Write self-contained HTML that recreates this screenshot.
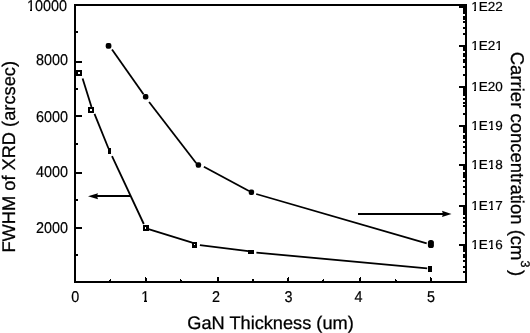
<!DOCTYPE html>
<html><head><meta charset="utf-8"><style>
html,body{margin:0;padding:0;background:#fff;width:530px;height:333px;overflow:hidden}
svg{position:absolute;left:0;top:0}
text{font-family:"Liberation Sans",Arial,sans-serif;fill:#000;stroke:#000;stroke-width:0.2px}
</style></head><body>
<svg width="530" height="333" viewBox="0 0 530 333" text-rendering="geometricPrecision">
<g fill="#000" shape-rendering="crispEdges">
<rect x="74" y="4" width="2" height="279"/>
<rect x="74" y="4" width="393" height="2"/>
<rect x="465" y="4" width="2" height="279"/>
<rect x="74" y="281" width="393" height="2"/>
<rect x="76" y="61" width="6" height="2"/>
<rect x="76" y="115" width="6" height="2"/>
<rect x="76" y="172" width="6" height="2"/>
<rect x="76" y="227" width="6" height="2"/>
<rect x="76" y="31" width="2" height="2"/>
<rect x="76" y="88" width="2" height="2"/>
<rect x="76" y="143" width="2" height="2"/>
<rect x="76" y="199" width="2" height="2"/>
<rect x="76" y="254" width="2" height="2"/>
<rect x="145" y="277" width="1" height="4"/>
<rect x="146" y="278" width="1" height="3"/>
<rect x="217" y="277" width="1" height="4"/>
<rect x="218" y="277" width="1" height="4"/>
<rect x="287" y="278" width="1" height="3"/>
<rect x="288" y="277" width="1" height="4"/>
<rect x="359" y="278" width="1" height="3"/>
<rect x="360" y="277" width="1" height="4"/>
<rect x="430" y="277" width="1" height="4"/>
<rect x="431" y="278" width="1" height="3"/>
<rect x="109" y="280" width="1" height="1"/>
<rect x="110" y="279" width="1" height="2"/>
<rect x="180" y="279" width="1" height="2"/>
<rect x="181" y="280" width="1" height="1"/>
<rect x="252" y="279" width="1" height="2"/>
<rect x="253" y="279" width="1" height="2"/>
<rect x="322" y="280" width="1" height="1"/>
<rect x="323" y="279" width="1" height="2"/>
<rect x="395" y="279" width="1" height="2"/>
<rect x="396" y="280" width="1" height="1"/>
<rect x="459" y="6" width="6" height="2"/>
<rect x="459" y="45" width="6" height="2"/>
<rect x="459" y="86" width="6" height="2"/>
<rect x="459" y="125" width="6" height="2"/>
<rect x="459" y="164" width="6" height="2"/>
<rect x="459" y="205" width="6" height="2"/>
<rect x="459" y="244" width="6" height="2"/>
<rect x="463" y="8" width="2" height="6"/>
<rect x="463" y="16" width="2" height="4"/>
<rect x="463" y="21" width="2" height="2"/>
<rect x="463" y="27" width="2" height="2"/>
<rect x="463" y="33" width="2" height="2"/>
<rect x="463" y="47" width="2" height="4"/>
<rect x="463" y="53" width="2" height="4"/>
<rect x="463" y="59" width="2" height="4"/>
<rect x="463" y="66" width="2" height="2"/>
<rect x="463" y="74" width="2" height="2"/>
<rect x="463" y="88" width="2" height="8"/>
<rect x="463" y="98" width="2" height="2"/>
<rect x="463" y="102" width="2" height="2"/>
<rect x="463" y="105" width="2" height="2"/>
<rect x="463" y="113" width="2" height="2"/>
<rect x="463" y="127" width="2" height="6"/>
<rect x="463" y="135" width="2" height="4"/>
<rect x="463" y="141" width="2" height="2"/>
<rect x="463" y="146" width="2" height="2"/>
<rect x="463" y="152" width="2" height="2"/>
<rect x="463" y="166" width="2" height="4"/>
<rect x="463" y="172" width="2" height="6"/>
<rect x="463" y="180" width="2" height="2"/>
<rect x="463" y="186" width="2" height="2"/>
<rect x="463" y="193" width="2" height="2"/>
<rect x="463" y="207" width="2" height="8"/>
<rect x="463" y="217" width="2" height="2"/>
<rect x="463" y="221" width="2" height="2"/>
<rect x="463" y="225" width="2" height="2"/>
<rect x="463" y="232" width="2" height="2"/>
<rect x="463" y="246" width="2" height="6"/>
<rect x="463" y="254" width="2" height="4"/>
<rect x="463" y="260" width="2" height="2"/>
<rect x="463" y="266" width="2" height="2"/>
<rect x="463" y="271" width="2" height="2"/>
</g>
<g stroke="#000" stroke-width="1.8" fill="none" stroke-linecap="butt">
<line x1="82.6" y1="78.4" x2="91.5" y2="107"/>
<line x1="94.5" y1="113.8" x2="108.5" y2="148.5"/>
<line x1="112" y1="156.2" x2="143.8" y2="224"/>
<line x1="148.5" y1="229.2" x2="192.2" y2="242.6"/>
<line x1="199.9" y1="245.1" x2="248.2" y2="251.2"/>
<line x1="256.4" y1="252.6" x2="427.2" y2="268.3"/>
<line x1="112" y1="49.5" x2="143.5" y2="94.3"/>
<line x1="149.1" y1="102" x2="196.3" y2="163.2"/>
<line x1="203.9" y1="166.7" x2="249" y2="191"/>
<line x1="256.2" y1="194" x2="426.7" y2="243.3"/>
</g>
<g fill="#000">
<path fill-rule="evenodd" d="M76 70h6v6h-6z M78 72v2h2v-2z"/>
<path fill-rule="evenodd" d="M88 107h6v6h-6z M90 109v2h2v-2z"/>
<rect x="108" y="148" width="3" height="6"/>
<path fill-rule="evenodd" d="M143 225h6v6h-6z M145 227v2h1v-2z"/>
<path fill-rule="evenodd" d="M192 242h5v6h-5z M194 244v1h1v-1z"/>
<rect x="248" y="250" width="6" height="4"/>
<rect x="428" y="266" width="4" height="6"/>
<rect x="105.7" y="43.1" width="5.7" height="5.6" rx="2"/>
<rect x="142.9" y="93.9" width="5.5" height="5.5" rx="2"/>
<rect x="195.7" y="162.2" width="5.4" height="5.5" rx="2"/>
<rect x="248.7" y="189.5" width="5.4" height="5.4" rx="2"/>
<rect x="427.9" y="240" width="6" height="8" rx="2.6"/>
<rect x="97" y="195" width="34" height="2"/>
<path d="M88 196.2 L98 193.2 L97 196 L98 199.2 Z"/>
<rect x="358" y="213" width="85" height="2"/>
<path d="M451.5 214 L442 210.8 L443 214 L442 216.9 Z"/>
</g>
<g font-size="15.7">
<text x="66.9" y="10.9" text-anchor="end" textLength="40" lengthAdjust="spacingAndGlyphs">10000</text>
<text x="68" y="65" text-anchor="end" textLength="32" lengthAdjust="spacingAndGlyphs">8000</text>
<text x="68" y="122" text-anchor="end" textLength="32" lengthAdjust="spacingAndGlyphs">6000</text>
<text x="68" y="177" text-anchor="end" textLength="32" lengthAdjust="spacingAndGlyphs">4000</text>
<text x="68" y="232.5" text-anchor="end" textLength="32" lengthAdjust="spacingAndGlyphs">2000</text>
<text x="71.2" y="302" textLength="8" lengthAdjust="spacingAndGlyphs">0</text>
<text x="141.35" y="302" textLength="8" lengthAdjust="spacingAndGlyphs">1</text>
<text x="212" y="302" textLength="8" lengthAdjust="spacingAndGlyphs">2</text>
<text x="284.5" y="302" textLength="8" lengthAdjust="spacingAndGlyphs">3</text>
<text x="354.5" y="302" textLength="8" lengthAdjust="spacingAndGlyphs">4</text>
<text x="426.9" y="302" textLength="8" lengthAdjust="spacingAndGlyphs">5</text>
</g>
<g font-size="13">
<text x="471.2" y="11" textLength="31.5" lengthAdjust="spacingAndGlyphs">1E22</text>
<text x="471.2" y="50" textLength="31.5" lengthAdjust="spacingAndGlyphs">1E21</text>
<text x="471.2" y="91" textLength="31.5" lengthAdjust="spacingAndGlyphs">1E20</text>
<text x="471.2" y="130" textLength="31.5" lengthAdjust="spacingAndGlyphs">1E19</text>
<text x="471.2" y="169" textLength="31.5" lengthAdjust="spacingAndGlyphs">1E18</text>
<text x="471.2" y="210" textLength="31.5" lengthAdjust="spacingAndGlyphs">1E17</text>
<text x="471.2" y="249" textLength="31.5" lengthAdjust="spacingAndGlyphs">1E16</text>
</g>
<g fill="#fff" shape-rendering="crispEdges">
<rect x="27" y="9" width="3" height="3"/>
<rect x="32" y="9" width="3" height="3"/>
<rect x="142" y="300" width="2" height="3"/>
<rect x="147" y="300" width="2" height="3"/>
<rect x="472" y="9" width="2" height="3"/>
<rect x="476" y="9" width="3" height="3"/>
<rect x="472" y="48" width="2" height="3"/>
<rect x="476" y="48" width="3" height="3"/>
<rect x="496" y="48" width="2" height="3"/>
<rect x="500" y="48" width="3" height="3"/>
<rect x="472" y="89" width="2" height="3"/>
<rect x="476" y="89" width="3" height="3"/>
<rect x="472" y="128" width="2" height="3"/>
<rect x="476" y="128" width="3" height="3"/>
<rect x="488" y="128" width="2" height="3"/>
<rect x="493" y="128" width="2" height="3"/>
<rect x="472" y="167" width="2" height="3"/>
<rect x="476" y="167" width="3" height="3"/>
<rect x="488" y="167" width="2" height="3"/>
<rect x="493" y="167" width="2" height="3"/>
<rect x="472" y="208" width="2" height="3"/>
<rect x="476" y="208" width="3" height="3"/>
<rect x="488" y="208" width="2" height="3"/>
<rect x="493" y="208" width="2" height="3"/>
<rect x="472" y="247" width="2" height="3"/>
<rect x="476" y="247" width="3" height="3"/>
<rect x="488" y="247" width="2" height="3"/>
<rect x="493" y="247" width="2" height="3"/>
</g>
<text x="187.3" y="328.8" font-size="18.2" style="stroke-width:0.28px">GaN Thickness (um)</text>
<text transform="translate(14.5,252.6) rotate(-90)" font-size="18.25" style="stroke-width:0.28px">FWHM of XRD (arcsec)</text>
<text transform="translate(510.8,51.76) rotate(90)" font-size="18.5" style="stroke-width:0.28px">Carrier concentration (cm<tspan font-size="12.5" dy="-10.3">3</tspan><tspan dy="10.3" dx="2.6" font-size="18.5">)</tspan></text>
</svg>
</body></html>
